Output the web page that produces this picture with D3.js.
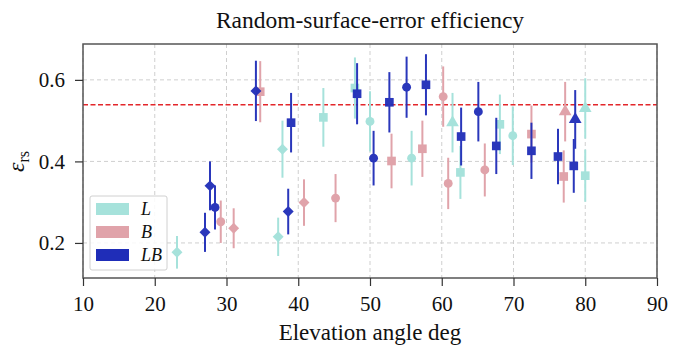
<!DOCTYPE html>
<html>
<head>
<meta charset="utf-8">
<script src="https://cdn.jsdelivr.net/npm/d3@7/dist/d3.min.js"></script>
<style>
  body { margin: 0; background: #fff; }
</style>
</head>
<body>
<div id="chart"></div>
<script>
// elevation (deg), efficiency, error half-width, marker shape
var lElev   = [23.1, 37.2, 37.8, 43.5, 47.9, 50.0, 55.8, 61.5, 62.6, 68.1, 69.9, 80.0, 80.0];
var lValue  = [0.177, 0.215, 0.430, 0.508, 0.580, 0.498, 0.408, 0.495, 0.373, 0.491, 0.463, 0.530, 0.365];
var lError  = [0.040, 0.047, 0.070, 0.072, 0.075, 0.074, 0.067, 0.073, 0.065, 0.073, 0.072, 0.074, 0.064];
var lMarker = ["d", "d", "d", "s", "s", "o", "o", "t", "s", "s", "o", "t", "s"];

var bElev   = [29.2, 31.0, 34.7, 40.8, 45.2, 53.0, 57.3, 60.2, 60.9, 66.0, 72.5, 77.0, 77.2];
var bValue  = [0.252, 0.236, 0.571, 0.299, 0.310, 0.401, 0.431, 0.559, 0.346, 0.379, 0.467, 0.363, 0.522];
var bError  = [0.052, 0.049, 0.075, 0.057, 0.059, 0.067, 0.069, 0.074, 0.063, 0.065, 0.070, 0.064, 0.073];
var bMarker = ["o", "d", "s", "d", "o", "s", "s", "o", "o", "o", "s", "s", "t"];

var lbElev   = [27.0, 27.7, 28.4, 34.1, 38.6, 39.0, 48.2, 50.5, 52.7, 55.1, 57.8, 62.7, 65.1, 67.6, 72.5, 76.2, 78.4, 78.6];
var lbValue  = [0.226, 0.340, 0.287, 0.573, 0.277, 0.495, 0.566, 0.408, 0.545, 0.582, 0.588, 0.461, 0.522, 0.438, 0.426, 0.412, 0.389, 0.503];
var lbError  = [0.048, 0.060, 0.054, 0.074, 0.056, 0.073, 0.075, 0.067, 0.074, 0.075, 0.075, 0.071, 0.073, 0.069, 0.069, 0.068, 0.066, 0.072];
var lbMarker = ["d", "d", "o", "d", "d", "s", "s", "o", "s", "o", "s", "s", "o", "s", "s", "s", "s", "t"];

var seriesNames  = ["L", "B", "LB"];
var seriesColors = ["#a6e2db", "#e0a3aa", "#1f2db8"];
var refLevel = 0.539;
var xTicks = [10, 20, 30, 40, 50, 60, 70, 80, 90];
var yTicks = [0.2, 0.4, 0.6];

var serif = "'Liberation Serif', 'Times New Roman', 'DejaVu Serif', serif";

var width = 684, height = 349;
var margin = {top: 44, right: 27, bottom: 71, left: 83};
var innerW = width - margin.left - margin.right;
var innerH = height - margin.top - margin.bottom;

var svg = d3.select("#chart").append("svg")
  .attr("width", width).attr("height", height)
  .attr("font-family", serif);

var x = d3.scaleLinear().domain([10, 90]).range([0, innerW]);
var y = d3.scaleLinear().domain([0.114, 0.688]).range([innerH, 0]);

var g = svg.append("g").attr("transform", "translate(" + margin.left + "," + margin.top + ")");

// grid
g.append("g").selectAll("line").data(xTicks).enter().append("line")
  .attr("x1", d => x(d)).attr("x2", d => x(d)).attr("y1", 0).attr("y2", innerH)
  .attr("stroke", "#cfcfcf").attr("stroke-width", 1).attr("stroke-dasharray", "4,3");
g.append("g").selectAll("line").data(yTicks).enter().append("line")
  .attr("y1", d => y(d)).attr("y2", d => y(d)).attr("x1", 0).attr("x2", innerW)
  .attr("stroke", "#cfcfcf").attr("stroke-width", 1).attr("stroke-dasharray", "4,3");

// reference line
g.append("line")
  .attr("x1", 0).attr("x2", innerW).attr("y1", y(refLevel)).attr("y2", y(refLevel))
  .attr("stroke", "#e3262b").attr("stroke-width", 1.5).attr("stroke-dasharray", "5,2.5");

var shapes = {
  d: d3.symbol().type(d3.symbolSquare).size(60),
  o: d3.symbol().type(d3.symbolCircle).size(62),
  s: d3.symbol().type(d3.symbolSquare).size(75),
  t: d3.symbol().type(d3.symbolTriangle).size(70)
};

function drawSeries(elev, val, err, mk, color, opacity) {
  var data = elev.map((e, i) => ({e: e, v: val[i], err: err[i], m: mk[i]}));
  var sg = g.append("g").attr("opacity", opacity);
  sg.selectAll("line").data(data).enter().append("line")
    .attr("x1", d => x(d.e)).attr("x2", d => x(d.e))
    .attr("y1", d => y(d.v - d.err)).attr("y2", d => y(d.v + d.err))
    .attr("stroke", color).attr("stroke-width", 2);
  sg.selectAll("path").data(data).enter().append("path")
    .attr("d", d => shapes[d.m]())
    .attr("transform", d => "translate(" + x(d.e) + "," + y(d.v) + ")" + (d.m === "d" ? " rotate(45)" : ""))
    .attr("fill", color);
}

drawSeries(lElev, lValue, lError, lMarker, seriesColors[0], 1);
drawSeries(bElev, bValue, bError, bMarker, seriesColors[1], 1);
drawSeries(lbElev, lbValue, lbError, lbMarker, seriesColors[2], 0.95);

// frame
g.append("rect").attr("width", innerW).attr("height", innerH)
  .attr("fill", "none").attr("stroke", "#555").attr("stroke-width", 1.5);

// axes
var xAxis = g.append("g").attr("transform", "translate(0," + innerH + ")")
  .call(d3.axisBottom(x).tickValues(xTicks).tickSize(8).tickPadding(10));
var yAxis = g.append("g")
  .call(d3.axisLeft(y).tickValues(yTicks).tickSize(8).tickPadding(10).tickFormat(d3.format(".1f")));
[xAxis, yAxis].forEach(function (a) {
  a.attr("font-family", serif).attr("font-size", 21);
  a.select(".domain").remove();
  a.selectAll(".tick line").attr("stroke", "#333").attr("stroke-width", 1.2);
  a.selectAll("text").attr("fill", "#111");
});

// title and labels
svg.append("text").attr("x", margin.left + innerW / 2).attr("y", 28)
  .attr("text-anchor", "middle").attr("font-size", 23.5).attr("fill", "#111")
  .text("Random-surface-error efficiency");
svg.append("text").attr("x", margin.left + innerW / 2).attr("y", 340)
  .attr("text-anchor", "middle").attr("font-size", 23).attr("fill", "#111")
  .text("Elevation angle deg");
var yl = svg.append("text").attr("transform", "translate(24," + (margin.top + y(0.4)) + ") rotate(-90)")
  .attr("text-anchor", "middle").attr("font-size", 24).attr("fill", "#111");
yl.append("tspan").attr("font-style", "italic").text("ε");
yl.append("tspan").attr("font-size", 16).attr("dy", 5).text("rs");

// legend
var lg = svg.append("g").attr("transform", "translate(90,196)");
lg.append("rect").attr("width", 77).attr("height", 74).attr("rx", 2)
  .attr("fill", "#fff").attr("fill-opacity", 0.85).attr("stroke", "#d0d0d0").attr("stroke-width", 1);
seriesNames.forEach(function (name, i) {
  var row = lg.append("g").attr("transform", "translate(0," + (7 + i * 23) + ")");
  row.append("rect").attr("x", 6).attr("y", 0).attr("width", 33).attr("height", 12).attr("fill", seriesColors[i]);
  row.append("text").attr("x", 51).attr("y", 12).attr("font-size", 18).attr("fill", "#111")
    .attr("font-style", "italic").text(name);
});
</script>
</body>
</html>
